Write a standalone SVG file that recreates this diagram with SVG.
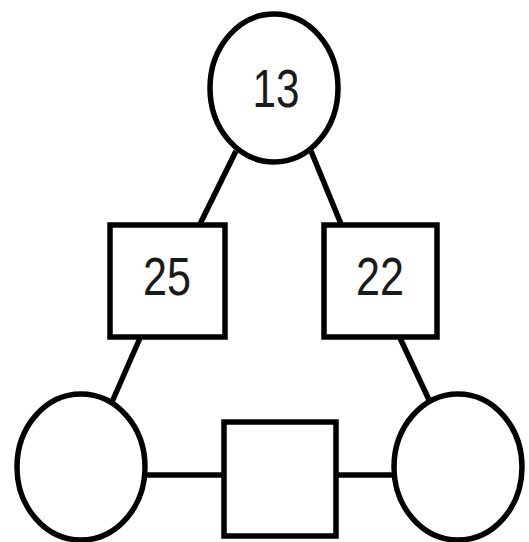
<svg xmlns="http://www.w3.org/2000/svg" width="529" height="542" viewBox="0 0 529 542">
<style>
.n{fill:#fff;stroke:#000;stroke-width:5.5}
.c line{stroke:#000;stroke-width:5.5}
text{font-family:"Liberation Sans",Arial,sans-serif;font-size:53px;fill:#1a1a1a;text-anchor:middle}
</style>
<rect width="529" height="542" fill="#fff"/>
<g class="c">
<line x1="236" y1="151" x2="200" y2="224"/>
<line x1="311" y1="151" x2="341" y2="224"/>
<line x1="140" y1="338" x2="112" y2="402"/>
<line x1="400" y1="338" x2="430" y2="402"/>
<line x1="146" y1="475" x2="224" y2="475"/>
<line x1="337" y1="475" x2="394" y2="475"/>
</g>
<g id="n13"><ellipse class="n" cx="274" cy="88" rx="64" ry="74"/><text x="276" y="107" textLength="47" lengthAdjust="spacingAndGlyphs">13</text></g>
<g id="n25"><rect class="n" x="110" y="225" width="115" height="112"/><text x="167" y="295" textLength="48" lengthAdjust="spacingAndGlyphs">25</text></g>
<g id="n22"><rect class="n" x="324" y="225" width="113" height="112"/><text x="380" y="295" textLength="48" lengthAdjust="spacingAndGlyphs">22</text></g>
<g id="bl"><ellipse class="n" cx="81" cy="467" rx="64" ry="73"/></g>
<g id="bm"><rect class="n" x="224" y="422" width="112" height="114"/></g>
<g id="br"><ellipse class="n" cx="458" cy="467" rx="64" ry="73"/></g>
</svg>
